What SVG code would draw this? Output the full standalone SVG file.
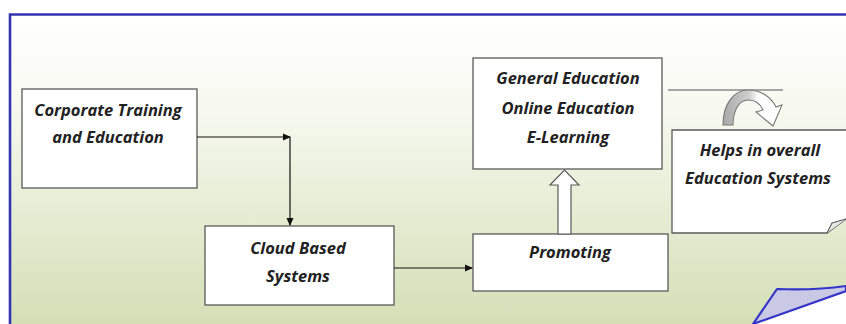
<svg xmlns="http://www.w3.org/2000/svg" width="846" height="324" viewBox="0 0 846 324">
<defs>
<linearGradient id="bg" x1="0" y1="0" x2="0" y2="1">
<stop offset="0" stop-color="#ffffff"/>
<stop offset="0.3" stop-color="#f7f9f0"/>
<stop offset="1" stop-color="#d4dfb6"/>
</linearGradient>
<linearGradient id="curl" x1="0" y1="0" x2="1" y2="0">
<stop offset="0" stop-color="#a8a8a8"/>
<stop offset="0.45" stop-color="#d0d0d0"/>
<stop offset="0.6" stop-color="#ffffff"/>
<stop offset="1" stop-color="#ffffff"/>
</linearGradient>
<marker id="ah" markerWidth="8" markerHeight="8" refX="7" refY="4" orient="auto" markerUnits="userSpaceOnUse">
<path d="M0,0.5 L8,4 L0,7.5 Z" fill="#111"/>
</marker>
<style>
.box{fill:#ffffff;stroke:#5a5a5a;stroke-width:1.3}
.t{font-family:"Open Sans","Liberation Sans",sans-serif;font-weight:bold;font-style:italic;font-size:16.5px;fill:#222;text-anchor:middle}
.ln{stroke:#111;stroke-width:1.2;fill:none}
</style>
</defs>
<rect x="0" y="0" width="846" height="324" fill="#ffffff"/>
<rect x="10" y="14" width="836" height="310" fill="url(#bg)"/>
<path d="M10,324 V14.5 H846" fill="none" stroke="#3434b0" stroke-width="2.6"/>

<g id="corporate">
<rect class="box" x="22" y="89" width="175" height="99"/>
<text class="t" x="108" y="116">Corporate Training</text>
<text class="t" x="108" y="143">and Education</text>
</g>
<g id="cloud">
<rect class="box" x="205" y="226" width="189" height="79"/>
<text class="t" x="298" y="254">Cloud Based</text>
<text class="t" x="298" y="282">Systems</text>
</g>
<g id="promoting">
<rect class="box" x="473" y="234" width="195" height="57"/>
<text class="t" x="570" y="258">Promoting</text>
</g>
<g id="general">
<rect class="box" x="473" y="58" width="189" height="111"/>
<text class="t" x="568" y="84">General Education</text>
<text class="t" x="568" y="114">Online Education</text>
<text class="t" x="568" y="143">E-Learning</text>
</g>
<g id="helps">
<path class="box" d="M672,130 H850 V216 L827,233 H672 Z"/>
<path d="M827,233 L832,223 L846,219" fill="#e8e8e8" stroke="#5a5a5a" stroke-width="1.1"/>
<text class="t" x="760" y="156">Helps in overall</text>
<text class="t" x="758" y="184">Education Systems</text>
</g>

<g id="connectors">
<line class="ln" x1="197" y1="137" x2="290" y2="137" marker-end="url(#ah)"/>
<line class="ln" x1="290" y1="137" x2="290" y2="225" marker-end="url(#ah)"/>
<line class="ln" x1="394" y1="268" x2="472" y2="268" marker-end="url(#ah)"/>
<path d="M558,234 V185 H550 L564.5,170 L579,185 H571 V234 Z" fill="#ffffff" stroke="#5a5a5a" stroke-width="1.2"/>
<line x1="668" y1="90" x2="783" y2="90" stroke="#555" stroke-width="1.2"/>
<path d="M723,125 C723,104 734,90 748,90 C761,90 771,97 776,107 L782,105 L773,126 L756,112 L763,110 C760,103 755,100 748,100 C740,100 733,109 733,125 Z" fill="url(#curl)" stroke="#777" stroke-width="1.1"/>
</g>

<g id="peel">
<path d="M753,324 L846,291 V324 Z" fill="#ffffff"/>
<path d="M753,324 L777,289 C800,290 825,289 846,286 L846,291 Z" fill="#c9c9e6" stroke="#3434c8" stroke-width="2.2" stroke-linejoin="round"/>
</g>
</svg>
